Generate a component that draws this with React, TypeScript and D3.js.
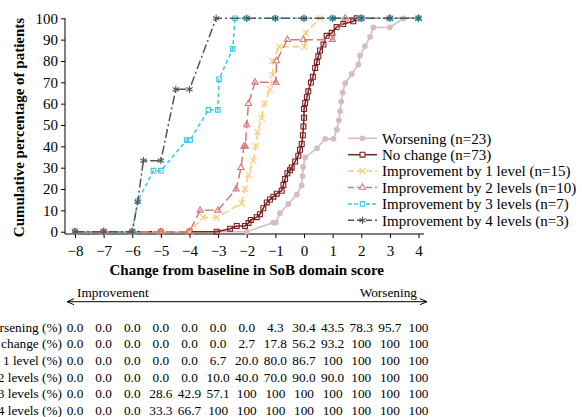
import { useEffect, useRef } from "react";
import * as d3 from "d3";

// x = change in SoB domain score, y = cumulative percentage of patients
const worsening: [number, number][] = [
  [-8, 0], [-7, 0], [-6, 0], [-5, 0], [-4, 0], [-3, 0], [-2, 0],
  [-1.07, 4.3], [-0.98, 4.3], [-0.84, 8.7], [-0.55, 13], [-0.25, 17.4],
  [-0.08, 21.7], [-0.05, 26.1], [-0.03, 30.4], [0.04, 34.8], [0.45, 39.1],
  [0.74, 43.5], [1.03, 43.5], [1.15, 47.8], [1.22, 52.2], [1.26, 56.5],
  [1.3, 60.9], [1.35, 65.2], [1.44, 69.6], [1.67, 73.9], [1.9, 78.3],
  [1.96, 82.6], [2.13, 87], [2.31, 91.3], [2.42, 95.7], [3.0, 95.7],
  [3.47, 100], [4, 100],
];
const noChange: [number, number][] = [
  [-8, 0], [-7, 0], [-6, 0], [-5, 0], [-4, 0], [-3.05, 0], [-2.58, 1.4],
  [-2.35, 2.7], [-2.06, 2.7], [-1.94, 4.1], [-1.86, 5.5], [-1.65, 6.8],
  [-1.54, 8.2], [-1.42, 11], [-1.3, 13.7], [-1.19, 15.1], [-1.07, 16.4],
  [-0.95, 17.8], [-0.78, 19.2], [-0.72, 21.9], [-0.66, 24.7], [-0.58, 27.4],
  [-0.49, 28.8], [-0.43, 30.1], [-0.31, 32.9], [-0.2, 35.6], [-0.14, 38.4],
  [-0.08, 41.1], [-0.04, 45.2], [-0.02, 49.3], [0.0, 53.4], [0.0, 57.5],
  [0.04, 60.3], [0.1, 63], [0.15, 65.8], [0.24, 69.9], [0.31, 72.6],
  [0.39, 76.7], [0.45, 79.5], [0.5, 82.2], [0.56, 84.9], [0.68, 87.7],
  [0.79, 91.8], [0.97, 93.2], [1.14, 95.9], [1.37, 97.3], [1.72, 98.6],
  [1.84, 100], [2, 100],
];
const improve1: [number, number][] = [
  [-8, 0], [-7, 0], [-6, 0], [-5, 0], [-4, 0], [-3.52, 6.7], [-3.05, 6.7],
  [-2.18, 13.3], [-2.06, 20], [-1.94, 26.7], [-1.77, 33.3], [-1.69, 40],
  [-1.62, 46.7], [-1.48, 53.3], [-1.38, 60], [-1.19, 66.7], [-1.09, 73.3],
  [-1.1, 80], [-0.86, 86.7], [0.01, 86.7], [0.06, 93.3], [0.56, 100],
  [1, 100], [2, 100], [3, 100], [4, 100],
];
const improve2: [number, number][] = [
  [-8, 0], [-7, 0], [-6, 0], [-5, 0], [-4, 0], [-3.63, 10], [-3.01, 10],
  [-2.37, 20], [-2.2, 30], [-2.1, 40], [-2.05, 40], [-2.0, 50], [-1.94, 60],
  [-1.71, 70], [-0.98, 70], [-0.96, 80], [-0.58, 90], [-0.02, 90],
  [0.99, 90], [1.44, 100], [2, 100], [3, 100], [4, 100],
];
const improve3: [number, number][] = [
  [-8, 0], [-7, 0], [-6, 0], [-5.81, 14.3], [-5.26, 28.6], [-5.0, 28.6],
  [-4.1, 42.9], [-3.98, 42.9], [-3.34, 57.1], [-3.01, 57.1], [-2.97, 71.4],
  [-2.49, 85.7], [-2.41, 100], [-2, 100], [-1, 100], [0, 100], [1, 100],
  [2, 100], [3, 100], [4, 100],
];
const improve4: [number, number][] = [
  [-8, 0], [-7, 0], [-6, 0], [-5.81, 14], [-5.61, 33.3], [-5.0, 33.3],
  [-4.48, 66.7], [-4.0, 66.7], [-3.07, 100], [-2, 100], [-1, 100], [0, 100],
  [1, 100], [2, 100], [3, 100], [4, 100],
];

const seriesNames = [
  "Worsening (n=23)",
  "No change (n=73)",
  "Improvement by 1 level (n=15)",
  "Improvement by 2 levels (n=10)",
  "Improvement by 3 levels (n=7)",
  "Improvement by 4 levels (n=3)",
];

// Table beneath the chart: one value per integer score from -8 to 4
const tableLabels = [
  "Worsening (%)",
  "No change (%)",
  "Improvement by 1 level (%)",
  "Improvement by 2 levels (%)",
  "Improvement by 3 levels (%)",
  "Improvement by 4 levels (%)",
];
const tableWorsening = ["0.0", "0.0", "0.0", "0.0", "0.0", "0.0", "0.0", "4.3", "30.4", "43.5", "78.3", "95.7", "100"];
const tableNoChange = ["0.0", "0.0", "0.0", "0.0", "0.0", "0.0", "2.7", "17.8", "56.2", "93.2", "100", "100", "100"];
const tableImprove1 = ["0.0", "0.0", "0.0", "0.0", "0.0", "6.7", "20.0", "80.0", "86.7", "100", "100", "100", "100"];
const tableImprove2 = ["0.0", "0.0", "0.0", "0.0", "0.0", "10.0", "40.0", "70.0", "90.0", "90.0", "100", "100", "100"];
const tableImprove3 = ["0.0", "0.0", "0.0", "28.6", "42.9", "57.1", "100", "100", "100", "100", "100", "100", "100"];
const tableImprove4 = ["0.0", "0.0", "0.0", "33.3", "66.7", "100", "100", "100", "100", "100", "100", "100", "100"];

const xTicks = [-8, -7, -6, -5, -4, -3, -2, -1, 0, 1, 2, 3, 4];
const yTicks = [0, 10, 20, 30, 40, 50, 60, 70, 80, 90, 100];

const FONT = "'Liberation Serif', 'Times New Roman', serif";

export default function App() {
  const ref = useRef<SVGSVGElement>(null);

  useEffect(() => {
    if (!ref.current) return;
    const svg = d3.select(ref.current);
    svg.selectAll("*").remove();

    const x = d3.scaleLinear().domain([-8, 4]).range([75, 418.5]);
    const y = d3.scaleLinear().domain([0, 100]).range([231.7, 18.3]);
    const axisY = 234;
    const axisX = 65;

    // styles per series: colour, dash, marker
    const styles = [
      { color: "#d6bcbc", dash: null, symbol: d3.symbolCircle, size: 26, fill: true, sw: 1.6 },
      { color: "#7d2020", dash: null, symbol: d3.symbolSquare, size: 24, fill: false, sw: 1.5 },
      { color: "#fdc878", dash: "7,4", symbol: d3.symbolTimes, size: 28, fill: false, sw: 1.5 },
      { color: "#d27b79", dash: "9,4", symbol: d3.symbolTriangle2, size: 28, fill: false, sw: 1.5 },
      { color: "#35c8e8", dash: "4,3", symbol: d3.symbolSquare2, size: 26, fill: false, sw: 1.5 },
      { color: "#555555", dash: "9,3,2,3", symbol: d3.symbolAsterisk, size: 36, fill: false, sw: 1.5 },
    ];
    const allSeries = [worsening, noChange, improve1, improve2, improve3, improve4];

    // axes
    const yAxis = d3.axisLeft(y).tickValues(yTicks).tickSize(4).tickPadding(3);
    const yg = svg.append("g").attr("transform", `translate(${axisX},0)`).call(yAxis);
    yg.select(".domain").remove();
    yg.selectAll("text").attr("font-family", FONT).attr("font-size", 15).attr("fill", "#000");

    const xAxis = d3
      .axisBottom(x)
      .tickValues(xTicks)
      .tickSize(4)
      .tickPadding(7)
      .tickFormat((d: any) => (d < 0 ? "\u2212" + Math.abs(d) : String(d)));
    const xg = svg.append("g").attr("transform", `translate(0,${axisY})`).call(xAxis);
    xg.select(".domain").remove();
    xg.selectAll("text").attr("font-family", FONT).attr("font-size", 15).attr("fill", "#000");

    svg.append("line")
      .attr("x1", axisX).attr("x2", axisX)
      .attr("y1", y(100)).attr("y2", axisY)
      .attr("stroke", "#000");
    svg.append("line")
      .attr("x1", axisX).attr("x2", 424)
      .attr("y1", axisY).attr("y2", axisY)
      .attr("stroke", "#000");

    // lines + markers
    const line = d3.line<[number, number]>().x(d => x(d[0])).y(d => y(d[1]));
    allSeries.forEach((data, i) => {
      const s = styles[i];
      const g = svg.append("g");
      g.append("path")
        .attr("d", line(data))
        .attr("fill", "none")
        .attr("stroke", s.color)
        .attr("stroke-width", s.sw)
        .attr("stroke-dasharray", s.dash);
      const sym = d3.symbol().type(s.symbol).size(s.size);
      g.selectAll("path.m")
        .data(data)
        .join("path")
        .attr("class", "m")
        .attr("transform", d => `translate(${x(d[0])},${y(d[1])})`)
        .attr("d", sym)
        .attr("fill", s.fill ? s.color : "none")
        .attr("stroke", s.fill ? "none" : s.color)
        .attr("stroke-width", 1.1);
    });

    // legend
    const legend = svg.append("g").attr("transform", "translate(348,138.3)");
    seriesNames.forEach((name, i) => {
      const s = styles[i];
      const row = legend.append("g").attr("transform", `translate(0,${i * 16.4})`);
      row.append("line")
        .attr("x1", 0).attr("x2", 29)
        .attr("stroke", s.color)
        .attr("stroke-width", s.sw)
        .attr("stroke-dasharray", s.dash ? (i === 4 ? "4,2" : "6,3") : null);
      row.append("path")
        .attr("transform", "translate(14.5,0)")
        .attr("d", d3.symbol().type(s.symbol).size(s.size)())
        .attr("fill", s.fill ? s.color : "#fff")
        .attr("stroke", s.fill ? "none" : s.color)
        .attr("stroke-width", 1.1);
      row.append("text")
        .attr("x", 34)
        .attr("dy", "0.35em")
        .attr("font-family", FONT)
        .attr("font-size", 15)
        .text(name);
    });

    // axis titles
    svg.append("text")
      .attr("x", (x(-8) + x(4)) / 2)
      .attr("y", 275)
      .attr("text-anchor", "middle")
      .attr("font-family", FONT)
      .attr("font-size", 15)
      .attr("font-weight", "bold")
      .text("Change from baseline in SoB domain score");
    svg.append("text")
      .attr("transform", "translate(23.5,127.5) rotate(-90)")
      .attr("text-anchor", "middle")
      .attr("font-family", FONT)
      .attr("font-size", 15)
      .attr("font-weight", "bold")
      .text("Cumulative percentage of patients");

    // improvement / worsening arrow
    const ay = 301.7;
    svg.append("path")
      .attr("d", `M67,${ay}H427M74,${ay - 3}L67,${ay}L74,${ay + 3}M420,${ay - 3}L427,${ay}L420,${ay + 3}`)
      .attr("fill", "none")
      .attr("stroke", "#000")
      .attr("stroke-width", 1);
    svg.append("text")
      .attr("x", 77).attr("y", 297)
      .attr("font-family", FONT).attr("font-size", 13.3)
      .text("Improvement");
    svg.append("text")
      .attr("x", 417).attr("y", 297)
      .attr("text-anchor", "end")
      .attr("font-family", FONT).attr("font-size", 13.3)
      .text("Worsening");

    // table (row labels run off the left edge, as in the source figure)
    const tableRows = [tableWorsening, tableNoChange, tableImprove1, tableImprove2, tableImprove3, tableImprove4];
    tableRows.forEach((row, r) => {
      const by = 331.7 + r * 16.66;
      svg.append("text")
        .attr("x", 62).attr("y", by)
        .attr("text-anchor", "end")
        .attr("font-family", FONT).attr("font-size", 13.3)
        .text(tableLabels[r]);
      svg.append("g")
        .selectAll("text")
        .data(row)
        .join("text")
        .attr("x", (_, c) => x(xTicks[c]))
        .attr("y", by)
        .attr("text-anchor", "middle")
        .attr("font-family", FONT)
        .attr("font-size", 13.3)
        .text(d => d);
    });
  }, []);

  return (
    <svg
      ref={ref}
      width={582}
      height={417}
      style={{ position: "absolute", left: 0, top: 0, background: "#fff" }}
    />
  );
}
